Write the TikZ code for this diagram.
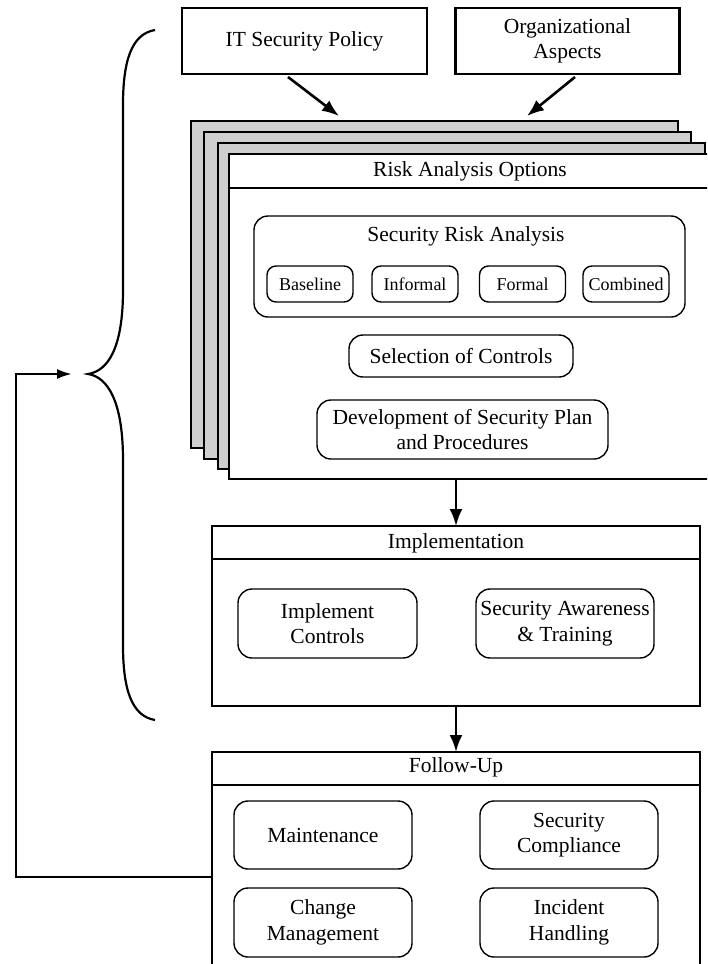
\documentclass[tikz,border=0pt]{standalone}
\usepackage{fontspec}
\setmainfont{Liberation Serif}
\usetikzlibrary{arrows.meta}
\newcommand{\mainfs}{\fontsize{21.5}{25.5}\selectfont}
\newcommand{\smallfs}{\fontsize{18}{22}\selectfont}
\begin{document}
\begin{tikzpicture}[x=1pt,y=-1pt,
  frame/.style={draw, line width=2.6pt, fill=white, inner sep=0pt, outer sep=0pt},
  topbox/.style={draw, line width=2.6pt, inner sep=0pt, outer sep=0pt, align=center, font=\mainfs},
  rbox/.style={draw, line width=1.4pt, rounded corners=14pt, inner sep=0pt, align=center, font=\mainfs},
  sbox/.style={draw, line width=1.4pt, rounded corners=9pt, inner sep=0pt, minimum width=86pt, minimum height=36pt, font=\smallfs},
  sheet/.style={draw, line width=1.4pt, fill=black!19},
  divider/.style={line width=2.6pt},
  arr/.style={line width=2.6pt, -{Latex[length=17pt,width=13pt]}},
  fbarr/.style={line width=2.4pt, -{Latex[length=15pt,width=10pt]}},
  brace/.style={line width=2.2pt},
  ttl/.style={font=\mainfs, inner sep=0pt}
]
\useasboundingbox (0,0) rectangle (707,964);
\clip (0,0) rectangle (707,964);

% top inputs
\node[topbox, minimum width=245pt, minimum height=66pt] (itsp) at (304.5,41) {IT Security Policy};
\node[topbox, minimum width=224pt, minimum height=66pt] (org) at (567.5,41) {Organizational\\Aspects};

% stacked sheets
\draw[sheet] (191,121) rectangle (678,448);
\draw[sheet] (204,132) rectangle (691,459);
\draw[sheet] (218,143) rectangle (705,469);

% risk analysis options
\node[frame, minimum width=487pt, minimum height=325pt] (rao) at (472.5,316.5) {};
\draw[divider] (rao.west |- 0,188) -- (rao.east |- 0,188);
\node[ttl] (raot) at (470,171) {Risk Analysis Options};

\node[rbox, minimum width=431pt, minimum height=101pt] (sra) at (469.5,266.5) {};
\node[ttl] (srat) at (466,236) {Security Risk Analysis};
\node[sbox] (base) at (310,284) {Baseline};
\node[sbox] (inf) at (415,284) {Informal};
\node[sbox] (form) at (522.5,284) {Formal};
\node[sbox] (comb) at (626,284) {Combined};

\node[rbox, minimum width=224pt, minimum height=42pt] (sel) at (461,356) {Selection of Controls};
\node[rbox, minimum width=291pt, minimum height=59pt] (dev) at (462.5,429.5) {Development of Security Plan\\and Procedures};

% implementation
\node[frame, minimum width=488pt, minimum height=180pt] (impl) at (456,616) {};
\draw[divider] (impl.west |- 0,559) -- (impl.east |- 0,559);
\node[ttl] (implt) at (456,543) {Implementation};
\node[rbox, minimum width=179pt, minimum height=69pt] (ic) at (327.5,623.5) {Implement\\Controls};
\node[rbox, minimum width=178pt, minimum height=69pt] (sat) at (565,623.5) {Security Awareness\\\& Training};

% follow-up
\node[frame, minimum width=488pt, minimum height=250pt] (fu) at (456,877) {};
\draw[divider] (fu.west |- 0,785) -- (fu.east |- 0,785);
\node[ttl] (fut) at (456,767) {Follow-Up};
\node[rbox, minimum width=178pt, minimum height=68pt] (maint) at (323,835) {Maintenance};
\node[rbox, minimum width=178pt, minimum height=68pt] (sc) at (569,835) {Security\\Compliance};
\node[rbox, minimum width=178pt, minimum height=69pt] (cm) at (323,922.5) {Change\\Management};
\node[rbox, minimum width=178pt, minimum height=69pt] (ih) at (569,922.5) {Incident\\Handling};

% arrows from inputs
\coordinate (a1s) at (288,77);
\coordinate (a1e) at (339,116);
\coordinate (a2s) at (575,77);
\coordinate (a2e) at (527,116);
\draw[arr] (a1s) -- (a1e);
\draw[arr] (a2s) -- (a2e);

% flow arrows
\draw[arr] (impl.north |- rao.south) -- (impl.north);
\draw[arr] (impl.south) -- (fu.north);

% brace
\draw[brace] (155,30) .. controls (131,34) and (123,62) .. (123,105)
  -- (123,290) .. controls (123,348) and (108,371) .. (88,374)
  .. controls (108,377) and (123,402) .. (123,460)
  -- (123,645) .. controls (123,688) and (131,716) .. (155,720);

% feedback
\coordinate (fbend) at (72,374);
\draw[fbarr] (fu.west) -- (16,877) -- (16,374) -- (fbend);
\end{tikzpicture}
\end{document}
